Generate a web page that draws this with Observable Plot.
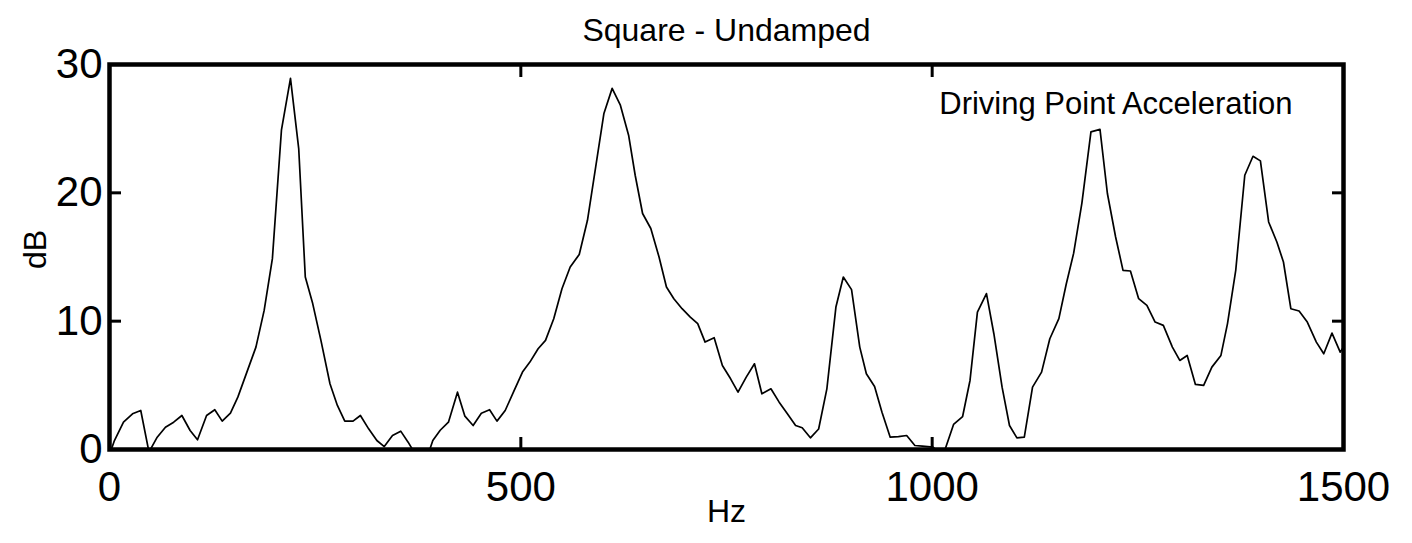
<!DOCTYPE html>
<html>
<head>
<meta charset="utf-8">
<script src="https://cdn.jsdelivr.net/npm/d3@7"></script>
<script src="https://cdn.jsdelivr.net/npm/@observablehq/plot@0.6"></script>
<style>
  html, body { margin: 0; padding: 0; background: #fff; overflow: hidden; }
  #chart svg { display: block; }
</style>
</head>
<body>
<div id="chart"></div>
<script>
// Driving point acceleration spectrum, square plate, undamped
const hz = [0, 6, 17, 28, 38, 48, 58, 68, 78, 88, 98, 107, 118, 128, 137, 147, 156, 167, 178, 188,
  198, 209, 220, 230, 238, 247, 257, 268, 277, 286, 296, 305, 315, 325, 334, 344, 354, 363, 373, 383,
  393, 402, 412, 423, 432, 442, 452, 462, 471, 481, 491, 502, 511, 521, 530, 540, 550, 560, 571, 581,
  591, 601, 611, 621, 631, 639, 648, 658, 668, 677, 686, 696, 706, 715, 724, 735, 745, 755, 764, 774,
  784, 793, 804, 814, 824, 834, 842, 852, 862, 872, 883, 892, 902, 912, 920, 930, 939, 949, 959, 969,
  979, 988, 1001, 1013, 1026, 1037, 1046, 1055, 1066, 1075, 1085, 1094, 1103, 1112, 1122, 1133, 1143, 1154, 1163, 1172,
  1182, 1193, 1204, 1213, 1223, 1232, 1241, 1251, 1261, 1271, 1281, 1292, 1301, 1310, 1320, 1330, 1340, 1351, 1359, 1369,
  1380, 1390, 1399, 1409, 1419, 1427, 1436, 1446, 1456, 1467, 1476, 1486, 1496, 1500];

const db = [-0.4, 0.7, 2.13, 2.78, 3.04, -0.2, 0.96, 1.74, 2.13, 2.65, 1.48, 0.76, 2.65, 3.1, 2.21, 2.83, 4.08, 6.03, 7.98, 10.84,
  14.87, 24.88, 28.92, 23.45, 13.44, 11.37, 8.5, 5.12, 3.43, 2.21, 2.21, 2.65, 1.61, 0.7, 0.23, 1.09, 1.43, 0.57, -0.5, -1.2,
  0.7, 1.5, 2.13, 4.47, 2.6, 1.87, 2.83, 3.1, 2.21, 3.04, 4.47, 6.03, 6.81, 7.85, 8.5, 10.19, 12.53, 14.22, 15.2, 17.86,
  22.02, 26.19, 28.14, 26.83, 24.49, 21.37, 18.39, 17.22, 15.0, 12.66, 11.75, 10.97, 10.32, 9.81, 8.37, 8.71, 6.55, 5.51, 4.47, 5.64,
  6.68, 4.34, 4.73, 3.69, 2.78, 1.87, 1.69, 0.91, 1.6, 4.73, 11.1, 13.44, 12.46, 7.98, 5.9, 4.91, 2.91, 0.96, 1.01, 1.09,
  0.31, 0.26, 0.18, -0.5, 1.95, 2.57, 5.38, 10.71, 12.15, 9.02, 4.86, 1.87, 0.91, 0.96, 4.86, 6.03, 8.63, 10.2, 12.9, 15.3,
  19.2, 24.75, 24.94, 19.95, 16.56, 13.96, 13.91, 11.75, 11.23, 9.93, 9.67, 7.98, 6.94, 7.33, 5.07, 4.99, 6.42, 7.33, 9.81, 13.96,
  21.37, 22.85, 22.49, 17.73, 16.17, 14.61, 10.97, 10.79, 9.93, 8.37, 7.46, 9.07, 7.59, 8.0];

const xTicks = [0, 500, 1000, 1500];
const yTicks = [0, 10, 20, 30];

const title = "Square - Undamped";
const note = "Driving Point Acceleration";
const xLabel = "Hz";
const yLabel = "dB";

const rows = hz.map((h, i) => ({hz: h, db: db[i]}));
const fmt = d => `${d}`;
const blank = () => "";

const chart = Plot.plot({
  width: 1412,
  height: 543,
  marginLeft: 109,
  marginRight: 69,
  marginTop: 64,
  marginBottom: 94,
  style: {fontFamily: "'Liberation Sans', Arial, Helvetica, sans-serif", color: "#000", background: "#fff"},
  x: {domain: [0, 1500]},
  y: {domain: [0, 30]},
  marks: [
    Plot.line(rows, {x: "hz", y: "db", stroke: "#000", strokeWidth: 1.7, clip: true}),
    Plot.frame({stroke: "#000", strokeWidth: 4.5}),
    Plot.axisX(xTicks, {anchor: "bottom", tickSize: -12, tickPadding: 34, strokeWidth: 3, fontSize: 42, tickFormat: fmt, label: null}),
    Plot.axisX(xTicks, {anchor: "top", tickSize: -12, strokeWidth: 3, tickFormat: blank, label: null}),
    Plot.axisY(yTicks, {anchor: "left", tickSize: -12, tickPadding: 19, strokeWidth: 3, fontSize: 42, tickFormat: fmt, label: null}),
    Plot.axisY(yTicks, {anchor: "right", tickSize: -12, strokeWidth: 3, tickFormat: blank, label: null}),
    Plot.text([title], {text: d => d, frameAnchor: "top", dy: -34, lineAnchor: "middle", fontSize: 32}),
    Plot.text([note], {text: d => d, frameAnchor: "top-right", textAnchor: "end", dx: -51, dy: 40, lineAnchor: "middle", fontSize: 31}),
    Plot.text([xLabel], {text: d => d, frameAnchor: "bottom", dy: 62, lineAnchor: "middle", fontSize: 32}),
    Plot.text([yLabel], {text: d => d, frameAnchor: "left", dx: -74, dy: 12, rotate: -90, lineAnchor: "middle", fontSize: 32})
  ]
});

document.getElementById("chart").appendChild(chart);
</script>
</body>
</html>
